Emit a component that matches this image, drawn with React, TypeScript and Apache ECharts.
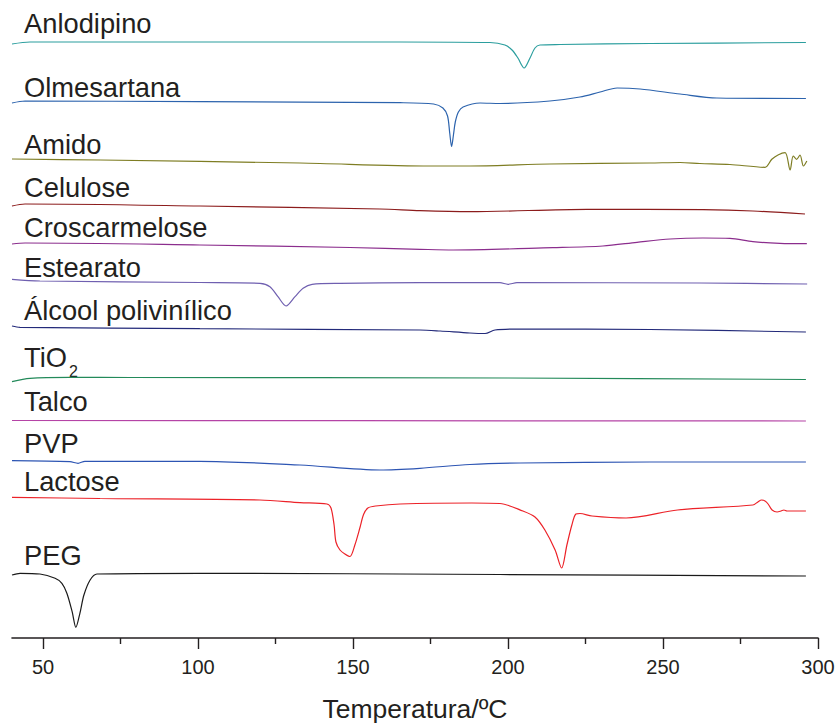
import React, { useEffect, useRef } from "react";
import * as echarts from "echarts";

// Stacked DSC curves: [temperature °C, stacked signal (arb. units)]
const anlodipino: [number, number][] = [
  [40, 594], [45.8, 596], [100.6, 596], [165.2, 596], [194.2, 595.5], [199, 593], [201.3, 588],
  [203.2, 580], [205.2, 570], [207.1, 580], [208.7, 590], [210.3, 593], [216.8, 593.5],
  [245.8, 594.5], [296.1, 595.5],
];
const olmesartana: [number, number][] = [
  [40, 535], [44.2, 537], [100.6, 536.3], [165.2, 535.3], [176, 534], [179, 530], [180.5, 522],
  [181.2, 505], [181.8, 491.5], [182.4, 503], [183, 516], [184, 526], [185.5, 531], [191, 535],
  [197.4, 534.5], [213.5, 537], [223.2, 541], [229.7, 546], [235.2, 550], [242.6, 549],
  [255.5, 544], [267.4, 540], [296.1, 539.5],
];
const amido: [number, number][] = [
  [40, 479], [68.4, 478], [132.9, 475], [174.8, 472], [187.7, 472], [213.5, 474], [245.8, 475],
  [255.5, 475.5], [261.9, 474.5], [271.6, 473.5], [282.9, 470.7], [285.1, 478.7], [287.1, 483],
  [289.4, 485.3], [291, 468], [292, 482], [293.1, 478.7], [294.2, 483], [295.3, 472], [296.4, 477],
];
const celulose: [number, number][] = [
  [40, 432], [44.2, 434], [100.6, 432], [158.7, 429], [171.6, 427.3], [187.7, 426.3],
  [225.5, 428.7], [262.9, 428.3], [279, 427], [295.8, 424],
];
const croscarmelose: [number, number][] = [
  [40, 394], [44.2, 395], [100.6, 393], [149, 390.5], [171.6, 388.7], [182.3, 388], [214.5, 390.3],
  [230.6, 392], [241.6, 395.7], [252.3, 399], [262.9, 400], [271.6, 399.7], [279, 396.3],
  [287.7, 394.7], [296.4, 394.3],
];
const estearato: [number, number][] = [
  [40, 358.7], [49, 357], [100.6, 355.5], [120, 354.7], [123.2, 351.3], [125.8, 341.3],
  [128.4, 332], [131.3, 341.3], [133.9, 349.7], [136.8, 353.7], [145.8, 354.7], [171.6, 355.3],
  [197.4, 355.3], [200, 353.7], [202.9, 355.3], [261.9, 355], [296.5, 354],
];
const alcoolPolivinilico: [number, number][] = [
  [40, 312], [42.6, 310.7], [100.6, 309.3], [171.6, 308], [178.1, 307], [187.7, 305],
  [192.6, 304.5], [195.8, 308], [203.9, 309], [245.8, 308.5], [296.1, 306],
];
const tio2: [number, number][] = [
  [40, 256.3], [45.8, 259.7], [58.7, 260.7], [78, 260.5], [200, 260], [296.1, 258.5],
];
const talco: [number, number][] = [
  [40, 217.5], [150, 217.3], [296.1, 217],
];
const pvp: [number, number][] = [
  [40, 177.3], [58.7, 176.3], [61.3, 174.7], [63.5, 176.7], [100.6, 176.7], [132.9, 173],
  [158.7, 168], [171.6, 169.7], [187.7, 173.5], [203.9, 175], [245.8, 176], [296.1, 176],
];
const lactose: [number, number][] = [
  [40, 140.7], [68.4, 139.5], [120, 138], [132.9, 135.4], [141.6, 134], [142.9, 130], [143.9, 113],
  [144.5, 96], [145.8, 88], [147.4, 84], [149, 81.5], [150.6, 93], [152.3, 111], [153.4, 123.4],
  [154.8, 130], [157.3, 132], [165.2, 134], [188.3, 135], [197.4, 134.5], [204.8, 127],
  [208.7, 121], [211.9, 108], [215.2, 88], [217.3, 70], [219, 93], [220.6, 113], [221.9, 124],
  [223.2, 124.5], [227.1, 122], [238.1, 120], [254.7, 128], [279, 133], [280.6, 136],
  [281.8, 138], [282.9, 137], [283.9, 134], [285.2, 128], [286.8, 126], [288.1, 127],
  [289, 128], [290, 127], [296.1, 127],
];
const peg: [number, number][] = [
  [40, 63], [42.6, 64.7], [49, 64], [53.9, 59.7], [56.1, 54.7], [57.7, 44.7], [59.4, 26.3],
  [60.6, 10.7], [61.9, 24.7], [63.2, 43], [65.2, 58], [67.4, 64], [100.6, 64.7], [197.4, 63.5],
  [296.1, 62],
];

const curves = [anlodipino, olmesartana, amido, celulose, croscarmelose, estearato,
  alcoolPolivinilico, tio2, talco, pvp, lactose, peg];
const names = ["Anlodipino", "Olmesartana", "Amido", "Celulose", "Croscarmelose", "Estearato",
  "Álcool polivinílico", "TiO2", "Talco", "PVP", "Lactose", "PEG"];
const colors = ["#2b9e9e", "#2c63ad", "#7e7d23", "#8c1c1c", "#8b2d8d", "#6f5fb0", "#232a7a",
  "#238a5a", "#b544a6", "#2d55b3", "#ec2228", "#1a1a1a"];
// label baselines (px from top of chart)
const labelBaselines = [33, 97, 154, 197, 237, 277, 320, 367, 411, 453, 491, 565];

const majorTicks = [50, 100, 150, 200, 250, 300];
const minorTicks = [75, 125, 175, 225, 275];

const FONT = "Liberation Sans, Arial, Helvetica, sans-serif";
const TXT = "#231f20";

export default function App() {
  const ref = useRef<HTMLDivElement>(null);
  useEffect(() => {
    document.body.style.margin = "0";
    const chart = echarts.init(ref.current!, undefined, { renderer: "svg" });
    const fs = 27.3;
    const graphics: any[] = [];
    names.forEach((n, i) => {
      if (n === "TiO2") {
        graphics.push({
          type: "text", x: 24, y: labelBaselines[i] - 0.34 * fs,
          style: { text: "TiO", font: `${fs}px ${FONT}`, fill: TXT, verticalAlign: "middle", align: "left" },
        });
        graphics.push({
          type: "text", x: 69, y: 377 - 0.34 * 16,
          style: { text: "2", font: `16px ${FONT}`, fill: TXT, verticalAlign: "middle", align: "left" },
        });
      } else {
        graphics.push({
          type: "text", x: 24, y: labelBaselines[i] - 0.34 * fs,
          style: { text: n, font: `${fs}px ${FONT}`, fill: TXT, verticalAlign: "middle", align: "left" },
        });
      }
    });
    chart.setOption({
      animation: false,
      backgroundColor: "#ffffff",
      grid: { left: 12, right: 20, top: 0, bottom: 86, containLabel: false, outerBoundsMode: "none" },
      xAxis: [
        {
          type: "value", min: 40, max: 300, position: "bottom",
          name: "Temperatura/ºC", nameLocation: "middle", nameGap: 57,
          nameTextStyle: { fontSize: 26.5, fontFamily: FONT, color: TXT },
          axisLine: { show: true, onZero: false, lineStyle: { color: "#231f20", width: 1.6 } },
          axisTick: { show: true, inside: false, length: 11, customValues: majorTicks, lineStyle: { color: "#231f20", width: 1.4 } },
          axisLabel: { show: true, customValues: majorTicks, margin: 18.5, fontSize: 20, fontFamily: FONT, color: TXT },
          splitLine: { show: false },
        },
        {
          type: "value", min: 40, max: 300, position: "bottom",
          axisLine: { show: false, onZero: false },
          axisTick: { show: true, inside: false, length: 6, customValues: minorTicks, lineStyle: { color: "#231f20", width: 1.4 } },
          axisLabel: { show: false },
          splitLine: { show: false },
        },
      ],
      yAxis: { type: "value", min: 0, max: 638, show: false, splitLine: { show: false } },
      series: curves.map((c, i) => ({
        type: "line", name: names[i], data: c, xAxisIndex: 0,
        showSymbol: false, symbol: "none", smooth: 0.3,
        lineStyle: { color: colors[i], width: 1.2 },
        silent: true,
      })),
      graphic: graphics,
    });
    return () => chart.dispose();
  }, []);
  return <div ref={ref} style={{ position: "fixed", left: 0, top: 0, width: 838, height: 724 }} />;
}
